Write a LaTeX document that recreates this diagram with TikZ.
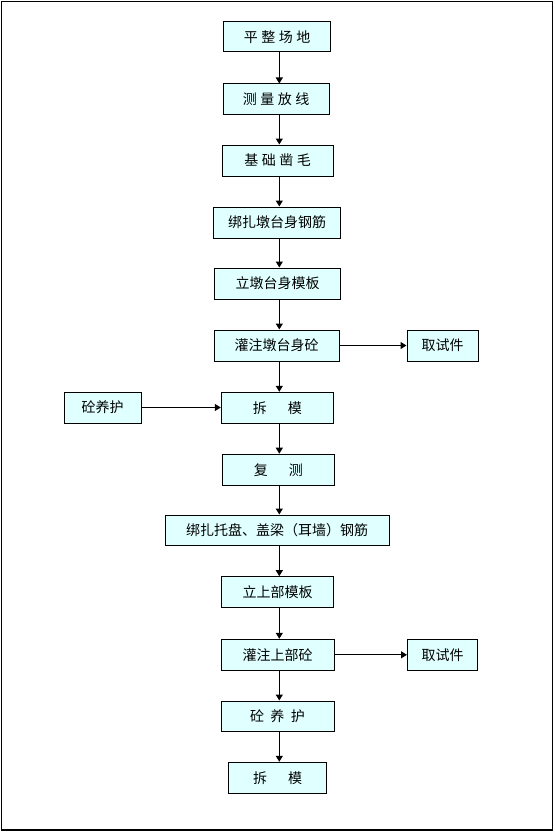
\documentclass[tikz,border=0pt]{standalone}
\usepackage{fontspec}
\newfontfamily\cjk{Noto Sans CJK SC}
\usetikzlibrary{arrows.meta}
\definecolor{boxfill}{RGB}{224,255,255}
\begin{document}
\begin{tikzpicture}[x=1pt,y=-1pt,
  box/.style={draw=black, line width=1pt, fill=boxfill, inner sep=0pt,
    minimum height=31pt, font=\cjk\fontsize{14pt}{16pt}\selectfont},
  arr/.style={line width=1.2pt, -{Triangle[width=7pt,length=6pt]}}]
\useasboundingbox (0,0) rectangle (554,832);
\draw[line width=1.3pt] (1.5,1.5) rectangle (552.5,830);
\coordinate (sp) at (279.3,0);
\node[box, minimum width=107pt, minimum height=30pt] (n1) at (277,37) {平\hspace{3.5pt}整\hspace{3.5pt}场\hspace{3.5pt}地};
\node[box, minimum width=106pt] (n2) at (276,99.5) {测\hspace{3.5pt}量\hspace{3.5pt}放\hspace{3.5pt}线};
\node[box, minimum width=111pt] (n3) at (277.5,160.5) {基\hspace{3.5pt}础\hspace{3.5pt}凿\hspace{3.5pt}毛};
\node[box, minimum width=127pt] (n4) at (277,222.5) {绑扎墩台身钢筋};
\node[box, minimum width=126pt] (n5) at (277.5,283.5) {立墩台身模板};
\node[box, minimum width=125pt] (n6) at (276.5,345.5) {灌注墩台身砼};
\node[box, minimum width=71pt] (s1) at (442.5,345.5) {取试件};
\node[box, minimum width=77pt] (y1) at (102.5,407.5) {砼养护};
\node[box, minimum width=112pt] (n7) at (277.3,407.8) {拆\hspace{21pt}模};
\node[box, minimum width=112pt] (n8) at (278.3,469.7) {复\hspace{21pt}测};
\node[box, minimum width=224pt, minimum height=30pt] (n9) at (277,530) {绑扎托盘、盖梁（耳墙）钢筋};
\node[box, minimum width=112pt] (n10) at (277.5,592.2) {立上部模板};
\node[box, minimum width=113pt] (n11) at (277.5,654.8) {灌注上部砼};
\node[box, minimum width=70pt] (s2) at (442.5,654.8) {取试件};
\node[box, minimum width=113pt, minimum height=30pt] (n12) at (277.5,716) {砼\hspace{6.5pt}养\hspace{6.5pt}护};
\node[box, minimum width=98pt] (n13) at (277.5,777.8) {拆\hspace{21pt}模};
\foreach \a/\b in {n1/n2,n2/n3,n3/n4,n4/n5,n5/n6,n6/n7,n7/n8,n8/n9,n9/n10,n10/n11,n11/n12,n12/n13}
  \draw[arr] (\a.south -| sp) -- (\b.north -| sp);
\draw[arr] (n6.east) -- (s1.west);
\draw[arr] (y1.east) -- (n7.west |- y1.east);
\draw[arr] (n11.east) -- (s2.west);
\end{tikzpicture}
\end{document}
